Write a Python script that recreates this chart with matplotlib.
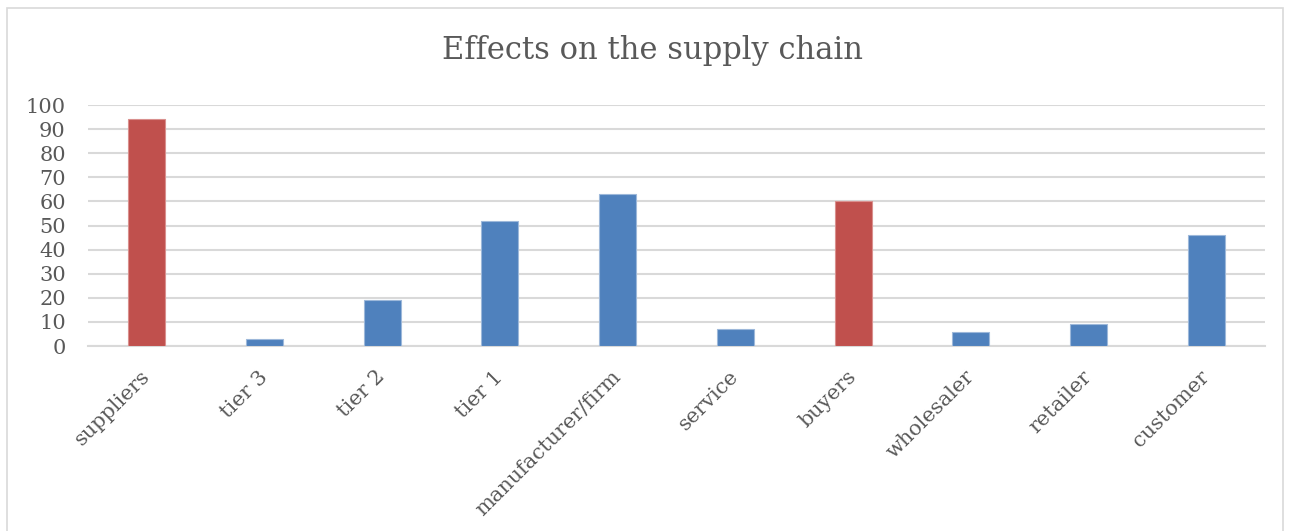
import matplotlib
matplotlib.use("Agg")
import matplotlib.pyplot as plt
from matplotlib.patches import Rectangle

# Data
categories = ["suppliers", "tier 3", "tier 2", "tier 1", "manufacturer/firm",
              "service", "buyers", "wholesaler", "retailer", "customer"]
values = [94, 3, 19, 52, 63, 7, 60, 6, 9, 46]
highlight = ["suppliers", "buyers"]
yticks = [0, 10, 20, 30, 40, 50, 60, 70, 80, 90, 100]

BLUE = "#4F81BD"
RED = "#C0504D"
TEXT = "#595959"
GRID = "#D9D9D9"

plt.rcParams["font.family"] = ["DejaVu Serif"]

fig = plt.figure(figsize=(12.92, 5.31), dpi=100)
ax = fig.add_axes([88 / 1292, 1 - 346 / 531, (1265 - 88) / 1292, (346 - 105) / 531])

# outer chart frame
fig.patches.append(Rectangle((7 / 1292, -0.05), (1283 - 7) / 1292, 1.05 - 8 / 531,
                             transform=fig.transFigure, fill=False,
                             edgecolor=GRID, linewidth=1.2))

x = list(range(len(categories)))
colors = [RED if c in highlight else BLUE for c in categories]
edges = ["#D9908E" if c in highlight else "#9DB8DA" for c in categories]
ax.bar(x, values, width=0.315, color=colors, edgecolor=edges, linewidth=0.8, zorder=3)

ax.set_xlim(-0.5, len(categories) - 0.5)
ax.set_ylim(0, 100)
ax.set_yticks(yticks)
ax.set_yticklabels([str(v) for v in yticks])
ax.yaxis.grid(True, color=GRID, linewidth=1.5, zorder=0)
ax.set_axisbelow(True)

for s in ["top", "right", "left"]:
    ax.spines[s].set_visible(False)
ax.spines["bottom"].set_color(GRID)
ax.spines["bottom"].set_linewidth(1.5)

ax.tick_params(axis="both", length=0, labelcolor=TEXT, labelsize=15)
ax.tick_params(axis="y", pad=16)
ax.set_xticks(x)
ax.set_xticklabels(categories, rotation=45, ha="right", va="center",
                   rotation_mode="anchor")
ax.tick_params(axis="x", pad=20)

fig.text(652 / 1292, 1 - 50 / 531, "Effects on the supply chain", ha="center",
         va="center", fontsize=22, color=TEXT)

fig.savefig("out.png", dpi=100)
